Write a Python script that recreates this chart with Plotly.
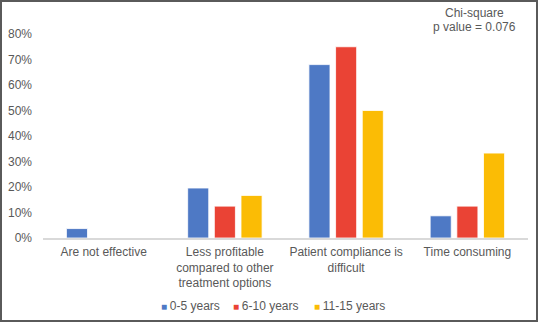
import plotly.graph_objects as go

categories = [
    "Are not effective",
    "Less profitable<br>compared to other<br>treatment options",
    "Patient compliance is<br>difficult",
    "Time consuming",
]
series_names = ["0-5 years", "6-10 years", "11-15 years"]
vals_0_5 = [0.037, 0.196, 0.68, 0.087]
vals_6_10 = [0.0, 0.125, 0.75, 0.125]
vals_11_15 = [0.0, 0.167, 0.50, 0.333]
colors = ["#4E79C5", "#EA4335", "#FBBC05"]
y_ticks = [0, 0.1, 0.2, 0.3, 0.4, 0.5, 0.6, 0.7, 0.8]
y_ticktext = ["0%", "10%", "20%", "30%", "40%", "50%", "60%", "70%", "80%"]

W, H = 538, 322
L, R, T, B = 43, 10, 34, 84
pw, ph = W - L - R, H - T - B

fig = go.Figure()
for name, vals, c in zip(series_names, [vals_0_5, vals_6_10, vals_11_15], colors):
    fig.add_trace(go.Bar(x=categories, y=vals, name=name,
                         marker=dict(color=c, line=dict(color="white", width=0.8))))

font = "Liberation Sans, Arial, sans-serif"
grey = "#595959"

def px_x(p):
    return (p - L) / pw

def px_y(p):
    return (H - B - p) / ph

# legend drawn as text entries with a coloured square glyph
legend_x = [159, 231, 312]
annotations = []
for name, c, lx in zip(series_names, colors, legend_x):
    annotations.append(dict(
        text=f'<span style="color:{c};font-size:10px">■ </span>{name}',
        xref="paper", yref="paper", x=px_x(lx), y=px_y(306),
        xanchor="left", yanchor="middle", showarrow=False,
        font=dict(size=12, color=grey)))
annotations += [
    dict(text="Chi-square", xref="paper", yref="paper",
         x=px_x(474.5), y=px_y(13), xanchor="center", yanchor="middle",
         showarrow=False, font=dict(size=12, color=grey)),
    dict(text="p value = 0.076", xref="paper", yref="paper",
         x=px_x(474.5), y=px_y(27), xanchor="center", yanchor="middle",
         showarrow=False, font=dict(size=12, color=grey)),
]

fig.update_layout(
    width=W, height=H,
    margin=dict(l=L, r=R, t=T, b=B, autoexpand=False),
    paper_bgcolor="white", plot_bgcolor="white",
    barmode="group", bargap=0.34, bargroupgap=0.21,
    font=dict(family=font, size=12, color=grey),
    showlegend=False,
    xaxis=dict(showline=True, linecolor="#D9D9D9", linewidth=1.5, automargin=False,
               showgrid=False, ticks="", ticklabelstandoff=2,
               tickfont=dict(size=12, color=grey)),
    yaxis=dict(range=[0, 0.8], tickvals=y_ticks, ticktext=y_ticktext, automargin=False,
               showgrid=False, zeroline=False, showline=False,
               ticklabelstandoff=10, tickfont=dict(size=12, color=grey)),
    annotations=annotations,
    shapes=[
        dict(type="rect", xref="paper", yref="paper",
             x0=(1 - L) / pw, x1=1 + (R - 1) / pw,
             y0=(1 - B) / ph, y1=1 + (T - 1) / ph,
             line=dict(color="#5A5A5A", width=2), fillcolor="rgba(0,0,0,0)"),
    ],
)

fig.write_html("out.html", config={"displayModeBar": False},
               post_script="document.body.style.margin='0';")
